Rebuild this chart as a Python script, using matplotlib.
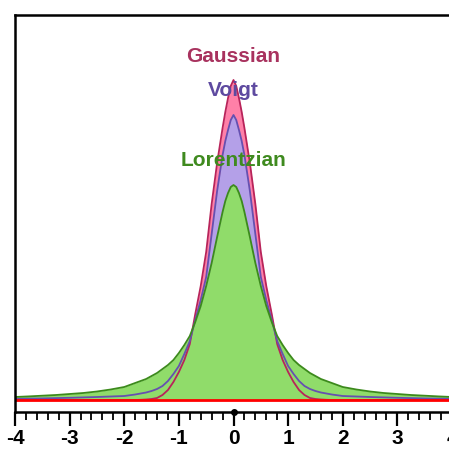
import numpy as np
import matplotlib
matplotlib.use("Agg")
import matplotlib.pyplot as plt
from matplotlib.ticker import MultipleLocator

plt.rcParams['font.family'] = ['Liberation Sans', 'DejaVu Sans']
plt.rcParams['axes.unicode_minus'] = False

# half profile (x >= 0); curves are symmetric about 0
x_half = [0, 0.05, 0.1, 0.15, 0.2, 0.3, 0.4, 0.5, 0.6, 0.7, 0.8, 0.9, 1.0,
          1.1, 1.2, 1.3, 1.4, 1.5, 1.6, 1.7, 1.8, 2.0, 2.25, 2.5, 2.75, 3.0,
          3.25, 3.5, 3.75, 4.0]
gauss_half = [320, 314, 302, 288, 272, 237, 196, 148, 114, 86, 56, 40, 28,
              18, 10, 5, 2, 1, 0.5, 0.2, 0, 0, 0, 0, 0, 0,
              0, 0, 0, 0]
voigt_half = [285, 280, 270, 259, 245, 209, 166, 123, 100, 80, 59, 46, 34,
              26, 19, 14, 11, 9, 7.5, 6.5, 5.5, 4, 3.5, 3, 2.6, 2.2,
              1.9, 1.6, 1.4, 1.2]
lorentz_half = [215, 213, 207, 199, 188, 163, 137, 114, 94, 78, 64, 55, 47,
                40, 35, 31, 27, 24, 21, 19, 17, 13, 10.5, 8.5, 7, 6,
                5, 4.3, 3.6, 3]

labels = ['Gaussian', 'Voigt', 'Lorentzian']
label_y = [343, 309, 240]


def mirror(vals, neg=False):
    v = np.asarray(vals, dtype=float)
    left = -v[:0:-1] if neg else v[:0:-1]
    return np.concatenate([left, v])


x = mirror(x_half, neg=True)
gauss = mirror(gauss_half)
voigt = mirror(voigt_half)
lorentz = mirror(lorentz_half)

fills = ['#ff80a8', '#b4a0e8', '#90dc6a']
edges = ['#b8245a', '#6650b0', '#3c8a1c']
text_cols = ['#a8325e', '#5e4aa0', '#3f8a1f']

fig = plt.figure(figsize=(4.49, 4.50), dpi=100)
ax = fig.add_axes([15/449, 38/450, 437/449, 397/450])

for y, fc in zip([gauss, voigt, lorentz], fills):
    ax.fill_between(x, 0, y, color=fc, lw=0)
for y, ec in zip([gauss, voigt, lorentz], edges):
    ax.plot(x, y, color=ec, lw=1.3)
ax.axhline(0, color='red', lw=2)

for lab, ly, c in zip(labels, label_y, text_cols):
    ax.text(0, ly, lab, color=c, fontsize=15, fontweight='bold',
            ha='center', va='center')

ax.set_xlim(-4, 4)
ax.set_ylim(-12, 385)

ax.plot([0], [-12], 'o', color='black', ms=4, clip_on=False, zorder=5)

for s in ['left', 'top', 'bottom', 'right']:
    ax.spines[s].set_linewidth(1.8)
ax.xaxis.set_major_locator(MultipleLocator(1))
ax.xaxis.set_minor_locator(MultipleLocator(0.2))
ax.tick_params(axis='x', which='major', direction='out', length=10, width=1.6,
               labelsize=15, pad=2)
ax.tick_params(axis='x', which='minor', direction='out', length=6, width=1.3)
ax.set_yticks([])
for t in ax.get_xticklabels():
    t.set_fontweight('bold')

fig.savefig('out.png', dpi=100)
